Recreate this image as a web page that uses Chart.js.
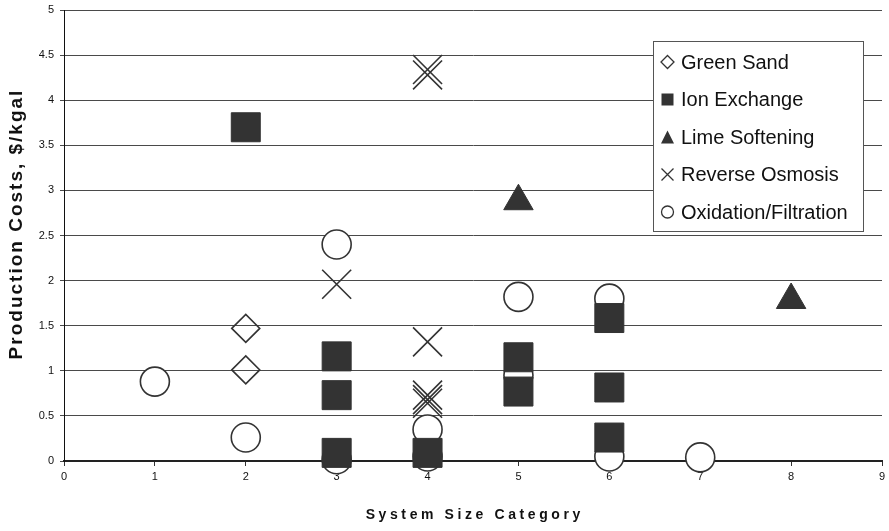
<!DOCTYPE html>
<html>
<head>
<meta charset="utf-8">
<script src="https://cdn.jsdelivr.net/npm/chart.js@4/dist/chart.umd.min.js"></script>
<style>
  html, body { margin: 0; padding: 0; background: #fff; }
  #wrap { width: 889px; height: 531px; position: relative; }
</style>
</head>
<body>
<div id="wrap"><canvas id="c" width="889" height="531"></canvas></div>
<script>
// ---- data ----
const seriesNames = ["Green Sand", "Ion Exchange", "Lime Softening", "Reverse Osmosis", "Oxidation/Filtration"];

const greenSandX = [2, 2];
const greenSandY = [1.47, 1.01];

const ionExchangeX = [2, 3, 3, 3, 4, 5, 5, 6, 6, 6];
const ionExchangeY = [3.70, 1.16, 0.73, 0.09, 0.09, 1.15, 0.77, 1.585, 0.815, 0.26];

const limeSofteningX = [5, 8];
const limeSofteningY = [2.88, 1.785];

const reverseOsmosisX = [3, 4, 4, 4, 4, 4, 4];
const reverseOsmosisY = [1.96, 4.34, 4.28, 1.32, 0.73, 0.68, 0.64];

const oxidationX = [1, 2, 3, 3, 4, 4, 5, 5, 6, 6, 7];
const oxidationY = [0.88, 0.26, 2.40, 0.02, 0.35, 0.05, 1.82, 0.95, 1.80, 0.05, 0.04];

const xTicks = [0, 1, 2, 3, 4, 5, 6, 7, 8, 9];
const yTicks = [0, 0.5, 1, 1.5, 2, 2.5, 3, 3.5, 4, 4.5, 5];

const xTitle = "System Size Category";
const yTitle = "Production Costs, $/kgal";

function pts(xs, ys) { return xs.map((x, i) => ({ x: x, y: ys[i] })); }

const INK = '#333333';

const datasets = [
  { label: seriesNames[0], data: pts(greenSandX, greenSandY), pointStyle: 'rectRot', pointRadius: 14,
    backgroundColor: 'rgba(0,0,0,0)', borderColor: INK, borderWidth: 1.6 },
  { label: seriesNames[1], data: pts(ionExchangeX, ionExchangeY), pointStyle: 'rect', pointRadius: 20.5,
    backgroundColor: INK, borderColor: INK, borderWidth: 1 },
  { label: seriesNames[2], data: pts(limeSofteningX, limeSofteningY), pointStyle: 'triangle', pointRadius: 17,
    backgroundColor: INK, borderColor: INK, borderWidth: 1 },
  { label: seriesNames[3], data: pts(reverseOsmosisX, reverseOsmosisY), pointStyle: 'crossRot', pointRadius: 20.5,
    backgroundColor: INK, borderColor: INK, borderWidth: 1.6 },
  { label: seriesNames[4], data: pts(oxidationX, oxidationY), pointStyle: 'circle', pointRadius: 14.5,
    backgroundColor: '#ffffff', borderColor: INK, borderWidth: 1.6 }
];
datasets.forEach(d => { d.pointHoverRadius = d.pointRadius; d.showLine = false; d.clip = false; });

// ---- custom legend + axis titles ----
function drawMarker(ctx, style, x, y, r) {
  ctx.save();
  ctx.strokeStyle = INK; ctx.fillStyle = INK; ctx.lineWidth = 1.3;
  ctx.beginPath();
  if (style === 'rectRot') {
    ctx.moveTo(x, y - r); ctx.lineTo(x + r, y); ctx.lineTo(x, y + r); ctx.lineTo(x - r, y); ctx.closePath();
    ctx.stroke();
  } else if (style === 'rect') {
    ctx.rect(x - r, y - r, 2 * r, 2 * r); ctx.fill();
  } else if (style === 'triangle') {
    ctx.moveTo(x, y - r); ctx.lineTo(x + r, y + r); ctx.lineTo(x - r, y + r); ctx.closePath(); ctx.fill();
  } else if (style === 'crossRot') {
    ctx.moveTo(x - r, y - r); ctx.lineTo(x + r, y + r); ctx.moveTo(x + r, y - r); ctx.lineTo(x - r, y + r); ctx.stroke();
  } else {
    ctx.arc(x, y, r, 0, Math.PI * 2); ctx.stroke();
  }
  ctx.restore();
}

const customPlugin = {
  id: 'custom',
  afterDraw(chart) {
    const ctx = chart.ctx;
    const ca = chart.chartArea;
    // legend box
    const bx = 653.5, by = 41.5, bw = 210, bh = 190;
    ctx.save();
    ctx.fillStyle = '#ffffff';
    ctx.fillRect(bx, by, bw, bh);
    ctx.strokeStyle = '#555';
    ctx.lineWidth = 1;
    ctx.strokeRect(bx, by, bw, bh);
    const sizes = [6.5, 6, 6.5, 6, 6];
    ctx.font = '20px "Liberation Sans", Arial, sans-serif';
    ctx.fillStyle = '#111';
    ctx.textBaseline = 'middle';
    ctx.textAlign = 'left';
    chart.data.datasets.forEach((d, i) => {
      const cy = 62 + i * 37.5;
      drawMarker(ctx, d.pointStyle, 667.5, cy, sizes[i]);
      ctx.fillText(d.label, 681, cy + 1);
    });
    ctx.restore();

    // x title
    ctx.save();
    ctx.font = 'bold 14px "Liberation Sans", Arial, sans-serif';
    ctx.fillStyle = '#111';
    ctx.textAlign = 'center';
    ctx.textBaseline = 'middle';
    ctx.letterSpacing = '3.6px';
    ctx.fillText(xTitle, (ca.left + ca.right) / 2 + 1.8, 515);
    ctx.restore();

    // y title
    ctx.save();
    ctx.translate(17, 225);
    ctx.rotate(-Math.PI / 2);
    ctx.font = 'bold 19px "Liberation Sans", Arial, sans-serif';
    ctx.fillStyle = '#111';
    ctx.textAlign = 'center';
    ctx.textBaseline = 'middle';
    ctx.letterSpacing = '2px';
    ctx.fillText(yTitle, 1, 0);
    ctx.restore();
  }
};

new Chart(document.getElementById('c'), {
  type: 'scatter',
  data: { datasets: datasets },
  plugins: [customPlugin],
  options: {
    responsive: false,
    animation: false,
    events: [],
    layout: { autoPadding: false, padding: { top: 10, right: 7, left: 0, bottom: 0 } },
    plugins: { legend: { display: false }, tooltip: { enabled: false } },
    scales: {
      x: {
        type: 'linear', min: 0, max: 9,
        afterBuildTicks: s => { s.ticks = xTicks.map(v => ({ value: v })); },
        afterFit: s => { s.height = 70; s.paddingLeft = 0; s.paddingRight = 0; },
        grid: { drawOnChartArea: false, drawTicks: true, tickLength: 5, color: INK },
        border: { color: '#222', width: 2 },
        ticks: { color: '#111', padding: 4, font: { family: '"Liberation Sans", Arial, sans-serif', size: 11 }, maxRotation: 0,
                 callback: v => String(v) }
      },
      y: {
        type: 'linear', min: 0, max: 5,
        afterBuildTicks: s => { s.ticks = yTicks.map(v => ({ value: v })); },
        afterFit: s => { s.width = 64; s.paddingTop = 0; s.paddingBottom = 0; },
        grid: { color: '#4a4a4a', lineWidth: 1, tickLength: 4, drawTicks: true },
        border: { color: '#111', width: 1 },
        ticks: { color: '#111', padding: 6, font: { family: '"Liberation Sans", Arial, sans-serif', size: 11 },
                 callback: v => String(v) }
      }
    }
  }
});
</script>
</body>
</html>
